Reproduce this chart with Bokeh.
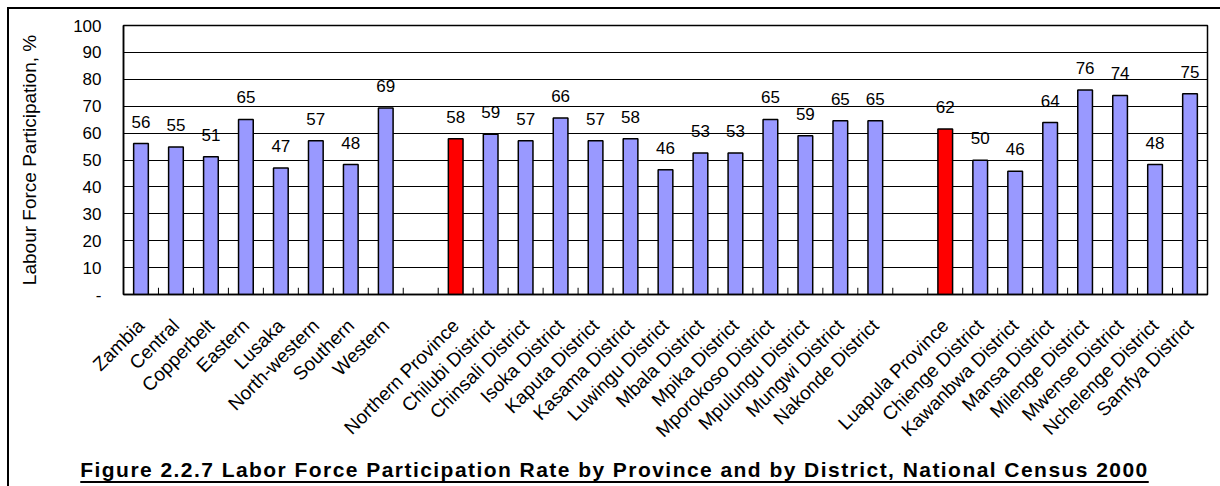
from bokeh.plotting import figure
from bokeh.models import (FactorRange, Range1d, ColumnDataSource, LabelSet,
                          SingleIntervalTicker, Div)
from bokeh.core.properties import value
from bokeh.layouts import column
from bokeh.embed import file_html
from bokeh.resources import INLINE
import math

# ---- data ----
national = ["Zambia", "Central", "Copperbelt", "Eastern", "Lusaka",
            "North-western", "Southern", "Western"]
national_vals = [56.1, 54.8, 51.2, 65.1, 47.0, 57.2, 48.3, 69.3]
national_lbls = ["56", "55", "51", "65", "47", "57", "48", "69"]

northern = ["Northern Province", "Chilubi District", "Chinsali District",
            "Isoka District", "Kaputa District", "Kasama District",
            "Luwingu District", "Mbala District", "Mpika District",
            "Mporokoso District", "Mpulungu District", "Mungwi District",
            "Nakonde District"]
northern_vals = [57.9, 59.6, 57.2, 65.6, 57.2, 57.9, 46.4, 52.6, 52.6,
                 65.1, 59.0, 64.6, 64.6]
northern_lbls = ["58", "59", "57", "66", "57", "58", "46", "53", "53",
                 "65", "59", "65", "65"]

luapula = ["Luapula Province", "Chienge District", "Kawanbwa District",
           "Mansa District", "Milenge District", "Mwense District",
           "Nchelenge District", "Samfya District"]
luapula_vals = [61.5, 49.9, 45.8, 63.9, 76.0, 74.0, 48.3, 74.6]
luapula_lbls = ["62", "50", "46", "64", "76", "74", "48", "75"]

highlight = ["Northern Province", "Luapula Province"]

y_label = "Labour Force Participation, %"
title_text = ("Figure 2.2.7 Labor Force Participation Rate by Province and by "
              "District, National Census 2000")

# ---- build ----
gap1, gap2 = " ", "  "
factors = national + [gap1] + northern + [gap2] + luapula
cats = national + northern + luapula
vals = national_vals + northern_vals + luapula_vals
lbls = national_lbls + northern_lbls + luapula_lbls
colors = ["#FF0000" if c in highlight else "#9999FF" for c in cats]

src = ColumnDataSource(dict(x=cats, top=vals, text=lbls, color=colors))

FONT = "Liberation Sans"

p = figure(x_range=FactorRange(*factors, range_padding=0),
           y_range=Range1d(0, 100),
           frame_width=1084, frame_height=269,
           min_border_left=114, min_border_right=13, min_border_top=16,
           min_border_bottom=150,
           output_backend="svg", toolbar_location=None,
           background_fill_color="white", border_fill_color="white")

p.vbar(x="x", top="top", width=0.42, fill_color="color", line_color="black",
       line_width=1.5, source=src)

# boundary tick marks between category slots (left edge of each slot)
edges = [(f, -0.5) for f in factors[1:]]
tick_src = ColumnDataSource(dict(x=edges, y0=[0] * len(edges),
                                 y1=[2.5] * len(edges)))
p.segment(x0="x", x1="x", y0="y0", y1="y1", source=tick_src,
          line_color="black", line_width=1)

labels = LabelSet(x="x", y="top", text="text", source=src, y_offset=16,
                  text_align="center", text_baseline="alphabetic",
                  text_font=value(FONT), text_font_size="17px",
                  text_color="black")
p.add_layout(labels)

# grid / frame
p.xgrid.grid_line_color = None
p.ygrid.grid_line_color = "black"
p.ygrid.grid_line_width = 1
p.outline_line_color = "black"
p.outline_line_width = 1.5

# y axis
p.yaxis.ticker = SingleIntervalTicker(interval=10)
p.yaxis.major_label_overrides = {0: "-"}
p.yaxis.major_tick_out = 0
p.yaxis.major_tick_in = 0
p.yaxis.minor_tick_out = 0
p.yaxis.minor_tick_in = 0
p.yaxis.axis_line_color = "black"
p.yaxis.axis_line_width = 1.5
p.yaxis.major_label_text_font = FONT
p.yaxis.major_label_text_font_size = "17px"
p.yaxis.major_label_text_color = "black"
p.yaxis.major_label_standoff = 22
p.yaxis.axis_label = y_label
p.yaxis.axis_label_text_font = FONT
p.yaxis.axis_label_text_font_size = "19px"
p.yaxis.axis_label_text_font_style = "normal"
p.yaxis.axis_label_text_color = "black"
p.yaxis.axis_label_standoff = 30

# x axis
p.xaxis.major_label_orientation = math.pi / 4
p.xaxis.major_tick_out = 0
p.xaxis.major_tick_in = 0
p.xaxis.axis_line_color = "black"
p.xaxis.axis_line_width = 1.5
p.xaxis.major_label_text_font = FONT
p.xaxis.major_label_text_font_size = "19px"
p.xaxis.major_label_text_color = "black"
p.xaxis.major_label_standoff = 28

title = Div(
    text=f"<u>{title_text}</u>",
    width=1211, height=36, margin=(0, 0, 0, 0),
    styles={"text-align": "center", "font-family": FONT,
            "font-weight": "bold", "font-size": "21px", "color": "black",
            "letter-spacing": "1.45px",
            "text-decoration-thickness": "3px",
            "text-underline-offset": "4px",
            "padding-top": "4px", "width": "1211px",
            "display": "block"})

root = column(p, title, margin=(7, 0, 0, 7),
              styles={"border-left": "2px solid black",
                      "border-top": "2px solid black"})

open("out.html", "w").write(file_html(root, INLINE))
